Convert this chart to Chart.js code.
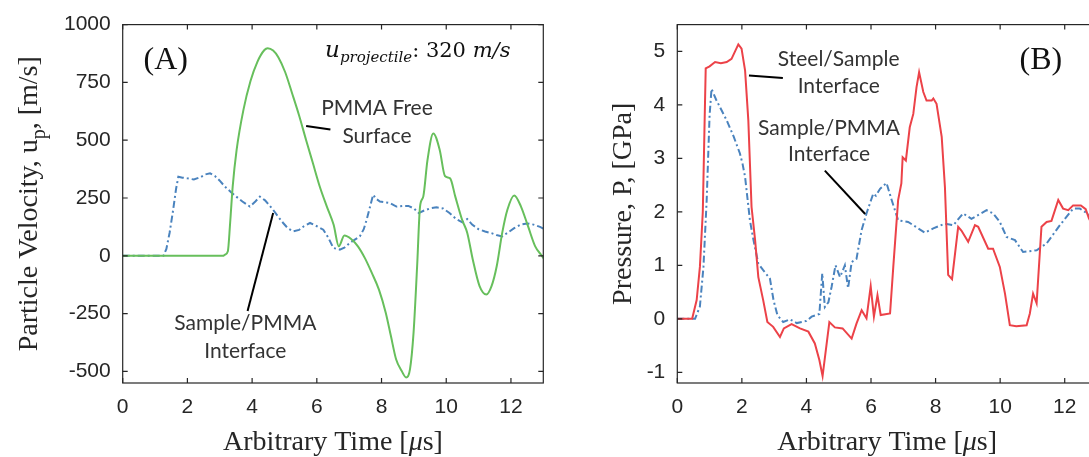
<!DOCTYPE html>
<html><head><meta charset="utf-8">
<script src="https://cdn.jsdelivr.net/npm/chart.js@4.4.1/dist/chart.umd.min.js"></script>
<style>
html,body{margin:0;padding:0;background:#fff;overflow:hidden;width:1089px;height:457px;position:relative;}
canvas{position:absolute;top:0;}
#cA{left:0}
#cB{left:545px}
</style></head><body>
<canvas id="cA" width="545" height="457"></canvas>
<canvas id="cB" width="560" height="457"></canvas>
<script>
// ---------- tick labels ----------
const timeTicks = [0, 2, 4, 6, 8, 10, 12];
const velTicks = [-500, -250, 0, 250, 500, 750, 1000];
const presTicks = [-1, 0, 1, 2, 3, 4, 5];

// ---------- Panel A: particle velocity (m/s) ----------
const freeSurfT = [0, 3.1, 3.16, 3.25, 3.32, 3.4, 3.52, 3.73, 3.95, 4.16, 4.38, 4.48, 4.65, 4.81, 5.02, 5.24, 5.45, 5.67, 5.88, 6.09, 6.31, 6.52, 6.68, 6.85, 7.06, 7.27, 7.49, 7.7, 7.92, 8.13, 8.29, 8.45, 8.62, 8.76, 8.88, 8.99, 9.1, 9.19, 9.29, 9.42, 9.6, 9.8, 9.96, 10.12, 10.28, 10.49, 10.65, 10.82, 11.03, 11.24, 11.4, 11.56, 11.73, 11.89, 12.1, 12.31, 12.53, 12.75, 12.96, 13.0];
const freeSurfV = [0, 0, 5, 20, 141, 300, 457, 630, 756, 838, 890, 898, 888, 859, 795, 701, 608, 500, 400, 300, 213, 134, 41, 88, 73, 41, -11, -74, -146, -246, -347, -447, -497, -526, -490, -332, -45, 213, 256, 414, 529, 457, 345, 335, 256, 156, 99, -16, -131, -167, -131, -45, 99, 199, 261, 213, 127, 41, -1, -10];

const ifaceAT = [0, 1.26, 1.35, 1.45, 1.55, 1.65, 1.72, 1.85, 2.0, 2.2, 2.4, 2.55, 2.7, 2.85, 3.0, 3.16, 3.35, 3.51, 3.7, 3.93, 4.1, 4.24, 4.4, 4.65, 4.8, 4.96, 5.1, 5.27, 5.45, 5.6, 5.79, 6.0, 6.2, 6.35, 6.51, 6.71, 6.85, 7.02, 7.33, 7.45, 7.54, 7.65, 7.74, 7.85, 7.95, 8.1, 8.25, 8.46, 8.65, 8.83, 9.0, 9.15, 9.3, 9.5, 9.7, 9.9, 10.1, 10.3, 10.5, 10.65, 10.8, 11.0, 11.2, 11.4, 11.55, 11.73, 11.9, 12.1, 12.3, 12.5, 12.7, 12.9, 13.0];
const ifaceAV = [0, 0, 30, 100, 190, 290, 342, 338, 335, 330, 340, 352, 357, 345, 325, 299, 275, 256, 235, 213, 235, 256, 240, 199, 170, 142, 120, 106, 112, 128, 142, 128, 113, 80, 34, 27, 35, 56, 84, 115, 156, 215, 264, 245, 235, 232, 229, 213, 216, 216, 205, 185, 195, 205, 210, 205, 185, 160, 145, 159, 135, 115, 105, 98, 90, 84, 100, 120, 135, 140, 135, 125, 118];

// ---------- Panel B: pressure (GPa) ----------
const steelT = [0, 0.46, 0.6, 0.7, 0.79, 0.84, 0.88, 1.0, 1.17, 1.35, 1.53, 1.68, 1.89, 1.99, 2.1, 2.2, 2.3, 2.41, 2.51, 2.66, 2.79, 2.97, 3.18, 3.3, 3.54, 3.8, 4.06, 4.26, 4.4, 4.5, 4.71, 4.88, 5.12, 5.4, 5.55, 5.71, 5.86, 5.99, 6.09, 6.2, 6.3, 6.59, 6.69, 6.84, 6.94, 6.98, 7.08, 7.2, 7.31, 7.41, 7.49, 7.62, 7.72, 7.88, 7.93, 8.03, 8.19, 8.29, 8.39, 8.51, 8.7, 8.8, 9.01, 9.22, 9.32, 9.63, 9.78, 9.99, 10.15, 10.3, 10.5, 10.82, 10.92, 11.02, 11.13, 11.28, 11.44, 11.59, 11.8, 11.95, 12.11, 12.26, 12.5, 12.65, 12.75, 12.9, 13.0];
const steelP = [0, 0, 0.35, 0.97, 2.0, 3.5, 4.68, 4.72, 4.8, 4.78, 4.8, 4.86, 5.13, 5.05, 4.64, 3.71, 2.09, 1.47, 0.78, 0.35, -0.06, -0.15, -0.34, -0.18, -0.1, -0.18, -0.24, -0.46, -0.77, -1.07, -0.06, -0.16, -0.18, -0.37, -0.09, 0.16, 0.01, 0.61, 0.04, 0.44, 0.07, 0.1, 0.97, 2.22, 2.53, 3.02, 2.96, 3.58, 3.83, 4.33, 4.61, 4.24, 4.08, 4.08, 4.12, 4.02, 3.4, 2.46, 0.82, 0.74, 1.72, 1.65, 1.44, 1.75, 1.72, 1.31, 1.31, 0.97, 0.47, -0.12, -0.14, -0.12, 0.1, 0.47, 0.29, 1.72, 1.81, 1.83, 2.22, 2.06, 2.03, 2.12, 2.12, 2.05, 1.88, 1.7, 1.6];

const ifaceBT = [0, 0.55, 0.7, 0.81, 0.91, 1.0, 1.06, 1.2, 1.53, 1.75, 1.94, 2.02, 2.1, 2.25, 2.36, 2.51, 2.66, 2.87, 2.98, 3.1, 3.28, 3.49, 3.7, 4.0, 4.16, 4.4, 4.49, 4.57, 4.68, 4.78, 4.9, 5.04, 5.11, 5.19, 5.29, 5.4, 5.55, 5.71, 5.86, 6.07, 6.15, 6.28, 6.48, 6.64, 6.81, 6.84, 7.15, 7.31, 7.67, 7.93, 8.29, 8.55, 8.85, 9.11, 9.58, 9.78, 9.99, 10.2, 10.46, 10.71, 11.13, 11.44, 11.85, 12.26, 12.47, 12.75, 13.0];
const ifaceBP = [0, 0, 0.23, 0.97, 2.22, 3.8, 4.3, 4.1, 3.71, 3.4, 3.09, 2.9, 2.65, 1.84, 1.47, 1.03, 0.91, 0.75, 0.35, 0.07, -0.06, -0.01, -0.08, -0.04, 0.04, 0.09, 0.85, 0.22, 0.31, 0.6, 1.0, 0.78, 0.88, 1.0, 0.57, 1.06, 1.12, 1.66, 1.97, 2.34, 2.3, 2.43, 2.54, 2.22, 1.9, 1.84, 1.81, 1.75, 1.61, 1.69, 1.78, 1.75, 1.97, 1.87, 2.03, 1.97, 1.81, 1.53, 1.47, 1.25, 1.28, 1.41, 1.75, 2.06, 2.06, 1.95, 1.85];

// ---------- styling ----------
const GREEN = '#67bf5c', BLUE = '#4a83be', RED = '#ec4248';
const TXT = '#262626';
const SERIF = '"Liberation Serif", "Times New Roman", serif';
const SANS = '"Liberation Sans", Arial, sans-serif';
const NOTE = '21px Lato, "Open Sans", sans-serif';

const pts = (t, v) => t.map((x, i) => ({x: x, y: v[i]}));

const boxPlugin = {
  id: 'box',
  afterDraw(chart) {
    const ctx = chart.ctx, a = chart.chartArea, xs = chart.scales.x, ys = chart.scales.y;
    ctx.save();
    ctx.strokeStyle = TXT; ctx.lineWidth = 1.2;
    ctx.strokeRect(a.left, a.top, a.right - a.left, a.bottom - a.top);
    ctx.beginPath();
    xs.ticks.forEach(t => {
      const p = xs.getPixelForValue(t.value);
      ctx.moveTo(p, a.bottom); ctx.lineTo(p, a.bottom - 5);
      ctx.moveTo(p, a.top); ctx.lineTo(p, a.top + 5);
    });
    ys.ticks.forEach(t => {
      const p = ys.getPixelForValue(t.value);
      ctx.moveTo(a.left, p); ctx.lineTo(a.left + 5, p);
      ctx.moveTo(a.right, p); ctx.lineTo(a.right - 5, p);
    });
    ctx.stroke();
    ctx.restore();
  }
};

function drawParts(ctx, x, y, parts, align) {
  let total = 0;
  parts.forEach(p => { ctx.font = p.font; p.w = ctx.measureText(p.t).width; total += p.w; });
  let cx = align === 'center' ? x - total / 2 : x;
  ctx.textAlign = 'left';
  parts.forEach(p => { ctx.font = p.font; ctx.fillText(p.t, cx, y + (p.dy || 0)); cx += p.w; });
}

const notesPlugin = {
  id: 'notes',
  afterDatasetsDraw(chart, args, opts) {
    const ctx = chart.ctx, xs = chart.scales.x, ys = chart.scales.y, a = chart.chartArea;
    ctx.save();
    ctx.strokeStyle = '#000'; ctx.lineWidth = 2;
    (opts.lines || []).forEach(l => {
      ctx.beginPath();
      ctx.moveTo(xs.getPixelForValue(l[0]), ys.getPixelForValue(l[1]));
      ctx.lineTo(xs.getPixelForValue(l[2]), ys.getPixelForValue(l[3]));
      ctx.stroke();
    });
    ctx.textBaseline = 'middle';
    (opts.texts || []).forEach(t => {
      ctx.font = t.font; ctx.fillStyle = t.color || '#333'; ctx.textAlign = 'center';
      ctx.fillText(t.text, xs.getPixelForValue(t.x), ys.getPixelForValue(t.y));
    });
    ctx.textBaseline = 'alphabetic';
    ctx.fillStyle = '#111';
    (opts.rich || []).forEach(r => {
      drawParts(ctx, xs.getPixelForValue(r.x), ys.getPixelForValue(r.y), r.parts, 'center');
    });
    // axis titles
    ctx.fillStyle = TXT;
    if (opts.xTitle) drawParts(ctx, (a.left + a.right) / 2, opts.xTitleBase, opts.xTitle, 'center');
    if (opts.yTitle) {
      ctx.save();
      ctx.translate(opts.yTitleBase, (a.top + a.bottom) / 2);
      ctx.rotate(-Math.PI / 2);
      drawParts(ctx, 0, 0, opts.yTitle, 'center');
      ctx.restore();
    }
    ctx.restore();
  }
};

const xTitleParts = () => [
  {t: 'Arbitrary Time [', font: '28px ' + SERIF},
  {t: 'μ', font: 'italic 28px ' + SERIF},
  {t: 's]', font: '28px ' + SERIF}
];

function makeChart(id, datasets, yMin, yMax, yTickVals, yWidth, padRight, notes) {
  return new Chart(document.getElementById(id), {
    type: 'line',
    data: {datasets: datasets},
    options: {
      responsive: false, animation: false, devicePixelRatio: 1,
      layout: {padding: {top: 24, right: padRight, bottom: 0, left: 0}},
      elements: {point: {radius: 0}, line: {borderWidth: 2, tension: 0}},
      plugins: {legend: {display: false}, tooltip: {enabled: false}, notes: notes},
      scales: {
        x: {
          type: 'linear', min: 0, max: 13,
          afterBuildTicks: s => { s.ticks = timeTicks.map(v => ({value: v})); },
          afterFit: s => { s.height = 74; },
          grid: {display: false, drawTicks: false}, border: {display: false},
          ticks: {padding: 12, color: TXT, font: {family: SANS, size: 21}, maxRotation: 0, callback: v => String(v)}
        },
        y: {
          type: 'linear', min: yMin, max: yMax,
          afterBuildTicks: s => { s.ticks = yTickVals.map(v => ({value: v})); },
          afterFit: s => { s.width = yWidth; },
          grid: {display: false, drawTicks: false}, border: {display: false},
          ticks: {padding: 12, color: TXT, font: {family: SANS, size: 21}, callback: v => String(v)}
        }
      }
    },
    plugins: [notesPlugin, boxPlugin]
  });
}

makeChart('cA', [
  {label: 'PMMA Free Surface', data: pts(freeSurfT, freeSurfV), borderColor: GREEN, cubicInterpolationMode: 'monotone'},
  {label: 'Sample/PMMA Interface', data: pts(ifaceAT, ifaceAV), borderColor: BLUE, borderDash: [7, 3, 2, 3]}
], -550, 1000, velTicks, 122.7, 1.7, {
  lines: [[5.67, 561, 6.42, 546], [4.65, 185, 3.86, -239]],
  texts: [
    {text: '(A)', x: 1.33, y: 845, font: '32px ' + SERIF, color: '#111'},
    {text: 'PMMA Free', x: 7.86, y: 637, font: NOTE},
    {text: 'Surface', x: 7.86, y: 518, font: NOTE},
    {text: 'Sample/PMMA', x: 3.79, y: -292, font: NOTE},
    {text: 'Interface', x: 3.79, y: -411, font: NOTE}
  ],
  rich: [{x: 9.12, y: 862, parts: [
    {t: 'u', font: 'italic 23px "DejaVu Serif", serif'},
    {t: 'projectile', font: 'italic 15px "DejaVu Serif", serif', dy: 5},
    {t: ': 320 ', font: '21px "DejaVu Serif", serif'},
    {t: 'm/s', font: 'italic 21px "DejaVu Serif", serif'}
  ]}],
  xTitle: xTitleParts(), xTitleBase: 450,
  yTitle: [
    {t: 'Particle Velocity, u', font: '28px ' + SERIF},
    {t: 'p', font: '20px ' + SERIF, dy: 8},
    {t: ', [m/s]', font: '28px ' + SERIF}
  ], yTitleBase: 37
});

makeChart('cB', [
  {label: 'Steel/Sample Interface', data: pts(steelT, steelP), borderColor: RED},
  {label: 'Sample/PMMA Interface', data: pts(ifaceBT, ifaceBP), borderColor: BLUE, borderDash: [7, 3, 2, 3]}
], -1.2, 5.5, presTicks, 132.3, 8, {
  lines: [[2.22, 4.55, 3.27, 4.50], [4.57, 2.77, 5.82, 1.96]],
  texts: [
    {text: '(B)', x: 11.26, y: 4.83, font: '32px ' + SERIF, color: '#111'},
    {text: 'Steel/Sample', x: 5.0, y: 4.86, font: NOTE},
    {text: 'Interface', x: 5.0, y: 4.34, font: NOTE},
    {text: 'Sample/PMMA', x: 4.70, y: 3.57, font: NOTE},
    {text: 'Interface', x: 4.70, y: 3.07, font: NOTE}
  ],
  xTitle: xTitleParts(), xTitleBase: 450,
  yTitle: [{t: 'Pressure, P, [GPa]', font: '28px ' + SERIF}], yTitleBase: 86
});
</script>
</body></html>
